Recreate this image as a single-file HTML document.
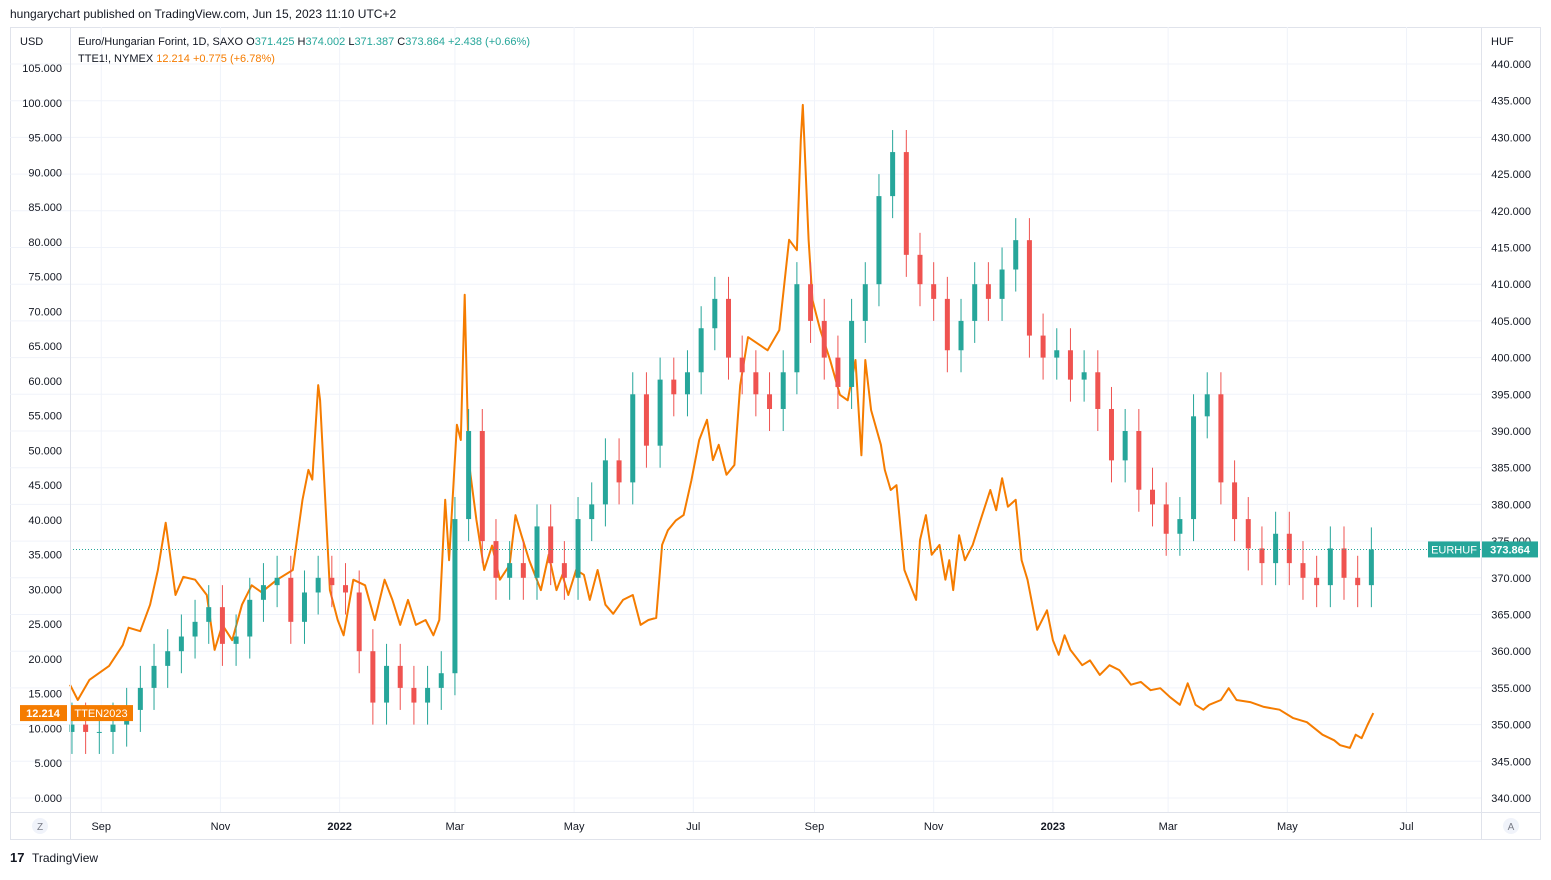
<!DOCTYPE html>
<html><head><meta charset="utf-8"><style>
body{margin:0;background:#fff;width:1551px;height:875px;overflow:hidden;font-family:"Liberation Sans",sans-serif;}
svg text{font-family:"Liberation Sans",sans-serif;}
</style></head><body>
<svg id="chart" width="1551" height="875" xmlns="http://www.w3.org/2000/svg">
<text x="10" y="18" font-size="12" fill="#131722">hungarychart published on TradingView.com, Jun 15, 2023 11:10 UTC+2</text>
<rect x="10.5" y="27.5" width="1530" height="812" fill="#fff" stroke="#e0e3eb"/>
<g id="grid"></g>
<g id="ttf"></g>
<g id="candles"></g>
<g id="axes"></g>
<line x1="70.5" y1="27" x2="70.5" y2="840" stroke="#e0e3eb"/>
<line x1="1481.5" y1="27" x2="1481.5" y2="840" stroke="#e0e3eb"/>
<line x1="10" y1="812.5" x2="1541" y2="812.5" stroke="#e0e3eb"/>
<text x="20" y="45" font-size="11" fill="#131722">USD</text>
<text x="1491" y="45" font-size="11" fill="#131722">HUF</text>
<g font-size="11">
<text x="78" y="45" fill="#131722">Euro/Hungarian Forint, 1D, SAXO <tspan>O</tspan><tspan fill="#26a69a">371.425</tspan> <tspan>H</tspan><tspan fill="#26a69a">374.002</tspan> <tspan>L</tspan><tspan fill="#26a69a">371.387</tspan> <tspan>C</tspan><tspan fill="#26a69a">373.864 +2.438 (+0.66%)</tspan></text>
</g>
<g font-size="11">
<text x="78" y="62" fill="#131722">TTE1!, NYMEX <tspan fill="#f57c00">  12.214  +0.775 (+6.78%)</tspan></text>
</g>
<circle cx="40" cy="826" r="8" fill="#f0f3fa"/>
<text x="40" y="830" font-size="10" text-anchor="middle" fill="#787b86">Z</text>
<circle cx="1511" cy="826" r="8" fill="#f0f3fa"/>
<text x="1511" y="830" font-size="10" text-anchor="middle" fill="#787b86">A</text>
<g>
<text x="10" y="862" font-size="13" font-weight="bold" fill="#131722">17</text>
<text x="32" y="862" font-size="12" fill="#131722">TradingView</text>
</g>
</svg>
<script>
const ttfDays=[0,4,10,20,27,30,36,41,45,49,54,58,64,70,74,78,83,88,93,98,106,114,119,122,124,127,128,133,137,140,145,151,156,161,165,169,173,177,182,186,189,192,194,198,200,202,204,208,212,216,220,225,228,231,235,241,245,249,252,255,259,263,266,270,274,278,283,288,292,296,300,303,306,310,314,318,322,326,329,332,336,340,343,347,357,363,368,372,374,375,378,380,384,389,394,398,402,405,407,410,415,417,420,423,427,431,433,435,438,441,445,448,450,452,455,458,462,466,471,474,477,480,484,487,490,495,500,503,506,509,512,518,522,527,532,537,543,548,553,558,563,568,572,576,580,583,589,593,597,604,611,619,626,633,641,647,650,655,658,661,664,667];
const ttfValues=[16.3,14.1,17,19,22,24.5,24,27.8,32.8,39.6,29.2,31.8,31.4,29.2,21.3,24.9,22.7,27.8,30.6,29.6,31.4,32.8,42.9,47.2,45.8,59.4,57.2,29.9,25.6,23.4,31.4,30.6,25.6,31.4,28.5,24.9,28.5,24.9,25.6,23.4,25.6,42.9,34.2,53.7,51.5,72.4,48.6,40,32.8,36.3,31.4,33.5,40.7,37.8,34.2,29.9,35,29.9,32.1,29.2,32.8,32.1,28.5,32.8,27.8,26.5,28.5,29.2,24.9,25.6,25.9,36.4,38.5,39.9,40.7,45.7,51.5,54.4,48.6,50.8,46.5,47.9,59.4,66.3,64.4,67.3,80.3,78.8,94.7,99.7,80.3,71.6,67.3,63,58,57.2,63,49.3,63,55.8,50.8,47.2,44.3,45,32.8,29.9,28.5,37.1,40.7,35,36.4,31.4,34.2,29.9,37.8,34.2,36.4,40,44.3,41.4,46,41.9,42.9,34.2,31.4,24.2,27,22.7,20.6,23.4,21.3,19.1,19.8,17.7,19.1,18.4,16.3,16.7,15.5,15.8,14.5,13.4,16.5,13.4,12.7,13.4,14.1,15.8,14.1,13.8,13.1,12.7,11.5,10.9,9.1,8.3,7.6,7.2,9.1,8.6,10.5,12.214];
const hufCloses=[350,349,349,350,352,355,358,360,362,364,366,361,362,367,369,370,364,368,370,369,368,360,353,358,355,353,355,357,378,390,375,370,372,370,377,372,370,378,380,386,383,395,388,397,395,398,404,408,400,398,395,393,398,410,405,400,396,405,410,422,428,414,410,408,401,405,410,408,412,416,403,400,401,397,398,393,386,390,382,380,376,378,392,395,383,378,374,372,376,372,370,369,374,370,369,373.864];
const leftTicks=[0,5,10,15,20,25,30,35,40,45,50,55,60,65,70,75,80,85,90,95,100,105];
const rightTicks=[340,345,350,355,360,365,370,375,380,385,390,395,400,405,410,415,420,425,430,435,440];
const monthLabels=["Sep","Nov","2022","Mar","May","Jul","Sep","Nov","2023","Mar","May","Jul"];
const monthDays=[16,77,138,197,258,319,381,442,503,562,623,684];

const NS="http://www.w3.org/2000/svg";
const xDay=d=>70+d*1.954;
const yL=v=>798-v*6.952;
const yR=v=>798-(v-340)*7.34;
function mk(tag,attrs,parent){const e=document.createElementNS(NS,tag);for(const k in attrs)e.setAttribute(k,attrs[k]);parent.appendChild(e);return e;}
const grid=document.getElementById('grid'),axes=document.getElementById('axes');
rightTicks.forEach(v=>{
  const y=yR(v);
  const g=mk('line',{x1:10,x2:1481,y1:y,y2:y,stroke:'#f0f3fa'},grid);
  
  
  const t=mk('text',{x:1531,y:y+4,'font-size':11,fill:'#131722','text-anchor':'end'},axes);
  t.textContent=v.toFixed(3);
  
  
});
leftTicks.forEach(v=>{
  const y=yL(v);
  const t=mk('text',{x:62,y:y+4,'font-size':11,fill:'#131722','text-anchor':'end'},axes);
  t.textContent=v.toFixed(3);
  
  
});
monthLabels.forEach((m,i)=>{
  const x=xDay(monthDays[i]);
  const g=mk('line',{x1:x,x2:x,y1:27,y2:812,stroke:'#f0f3fa'},grid);
  
  
  const bold=/^\d/.test(m);
  const t=mk('text',{x:x,y:830,'font-size':11,fill:'#131722','text-anchor':'middle','font-weight':bold?'bold':'normal'},axes);
  t.textContent=m;
  
  
});
const pts=ttfDays.map((d,i)=>xDay(d).toFixed(1)+','+yL(ttfValues[i]).toFixed(1)).join(' ');
const pl=mk('polyline',{points:pts,fill:'none',stroke:'#f57c00','stroke-width':2,'stroke-linejoin':'round'},document.getElementById('ttf'));


const cg=document.getElementById('candles');
hufCloses.forEach((c,i)=>{
  const o=i?hufCloses[i-1]:c-1;
  const up=c>=o, col=up?'#26a69a':'#ef5350';
  const x=xDay(1+i*7);
  const hi=Math.max(o,c)+3, lo=Math.min(o,c)-3;
  const w=mk('line',{x1:x,x2:x,y1:yR(hi),y2:yR(lo),stroke:col,'stroke-width':1},cg);
  
  
  const top=yR(Math.max(o,c)),bot=yR(Math.min(o,c));
  const b=mk('rect',{x:x-2.5,y:top,width:5,height:Math.max(1,bot-top),fill:col},cg);
  
  
});
const lastY=yR(hufCloses[hufCloses.length-1]);
const dl=mk('line',{x1:70,x2:1481,y1:lastY,y2:lastY,stroke:'#26a69a','stroke-dasharray':'1,2'},axes);


const b1=mk('rect',{x:1428,y:lastY-8,width:52,height:16,fill:'#26a69a'},axes);


const t1=mk('text',{x:1454,y:lastY+4,'font-size':11,fill:'#fff','text-anchor':'middle'},axes);t1.textContent='EURHUF';
const b2=mk('rect',{x:1482,y:lastY-8,width:56,height:16,fill:'#26a69a'},axes);


const t2=mk('text',{x:1510,y:lastY+4,'font-size':11,fill:'#fff','text-anchor':'middle','font-weight':'bold'},axes);t2.textContent='373.864';
const ttfY=yL(ttfValues[ttfValues.length-1]);
const b3=mk('rect',{x:20,y:ttfY-8,width:47,height:16,fill:'#f57c00'},axes);


const t3=mk('text',{x:43,y:ttfY+4,'font-size':11,fill:'#fff','text-anchor':'middle','font-weight':'bold'},axes);t3.textContent=ttfValues[ttfValues.length-1].toFixed(3);
const b4=mk('rect',{x:70,y:ttfY-8,width:63,height:16,fill:'#f57c00'},axes);


const t4=mk('text',{x:101,y:ttfY+4,'font-size':11,fill:'#fff','text-anchor':'middle'},axes);t4.textContent='TTEN2023';
</script>
</body></html>
